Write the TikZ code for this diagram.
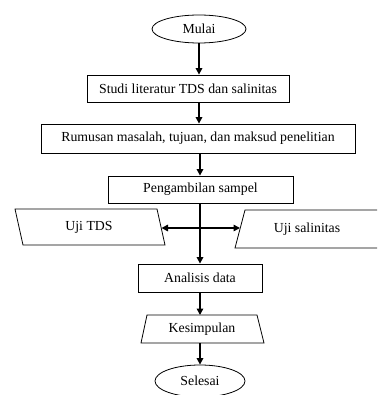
\documentclass[tikz,border=0pt]{standalone}
\usepackage{fontspec}
\setmainfont{Liberation Serif}
\usetikzlibrary{shapes.geometric,arrows.meta}
\begin{document}
\begin{tikzpicture}[x=1pt,y=-1pt,
  every node/.style={font=\fontsize{13.8}{16}\selectfont, inner sep=0pt},
  term/.style={draw, ellipse, line width=0.8pt},
  proc/.style={draw, rectangle, line width=0.8pt},
  shp/.style={draw, line width=0.8pt, line join=miter},
  flow/.style={line width=1.5pt, -{Triangle[length=6.5pt,width=6.5pt]}},
  both/.style={line width=1.5pt, {Triangle[length=6.5pt,width=6.5pt]}-{Triangle[length=6.5pt,width=6.5pt]}}
]
\useasboundingbox (0,0) rectangle (377,395);
\clip (0,0) rectangle (377,395);
\node[term, minimum width=94pt, minimum height=28pt] (mulai) at (199,29) {Mulai};
\node[proc, minimum width=202pt, minimum height=27pt] (b1) at (188,88.5) {Studi literatur TDS dan salinitas};
\node[proc, minimum width=314pt, minimum height=29pt] (b2) at (198,138.5) {Rumusan masalah, tujuan, dan maksud penelitian};
\node[proc, minimum width=185pt, minimum height=27pt] (b3) at (200.5,189.5) {Pengambilan sampel};
\draw[shp] (15,209) -- (157,209) -- (165,245) -- (23,245) -- cycle;
\node (tds) at (89,227) {Uji TDS};
\draw[shp] (245,210) -- (420,210) -- (410,248) -- (235,248) -- cycle;
\node (sal) at (307,229) {Uji salinitas};
\coordinate (tdsR) at (161.5,228);
\coordinate (salL) at (240,228);
\node[proc, minimum width=124pt, minimum height=28pt] (ana) at (200,278) {Analisis data};
\draw[shp] (147,315) -- (257,315) -- (264,343) -- (141,343) -- cycle;
\node (kes) at (202,329) {Kesimpulan};
\coordinate (kesT) at (200,315);
\coordinate (kesB) at (200,343);
\node[term, minimum width=90pt, minimum height=32pt] (sel) at (200,381) {Selesai};
\coordinate (m1) at (mulai.south |- b1.north);
\coordinate (m2) at (mulai.south |- b1.south);
\coordinate (m3) at (mulai.south |- b2.north);
\coordinate (p1) at (b2.south -| ana.north);
\coordinate (p2) at (b3.north -| ana.north);
\coordinate (p3) at (b3.south -| ana.north);
\draw[flow] (mulai.south) -- (m1);
\draw[flow] (m2) -- (m3);
\draw[flow] (p1) -- (p2);
\draw[flow] (p3) -- (ana.north);
\draw[both] (tdsR) -- (salL);
\draw[flow] (ana.south) -- (kesT);
\draw[flow] (kesB) -- (sel.north);
\end{tikzpicture}
\end{document}
